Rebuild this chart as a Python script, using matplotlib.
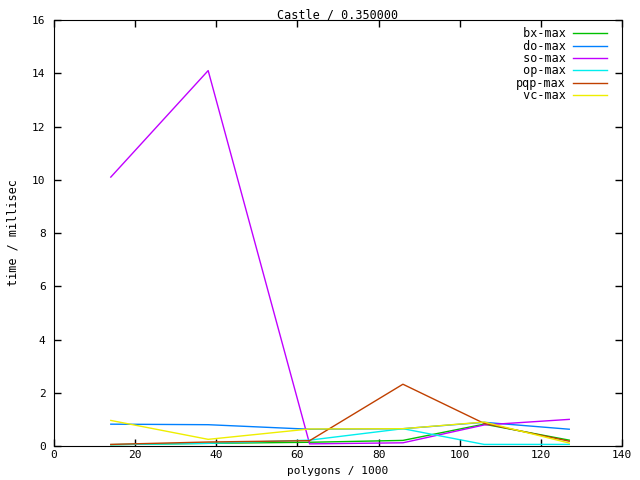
import matplotlib
matplotlib.use("Agg")
import matplotlib.pyplot as plt

polygons = [14, 38, 63, 86, 106, 127]

bx_max = [0.05, 0.10, 0.14, 0.21, 0.82, 0.22]
do_max = [0.82, 0.80, 0.63, 0.65, 0.89, 0.63]
so_max = [10.1, 14.1, 0.08, 0.12, 0.79, 1.00]
op_max = [0.05, 0.10, 0.22, 0.65, 0.06, 0.06]
pqp_max = [0.06, 0.15, 0.20, 2.32, 0.85, 0.18]
vc_max = [0.96, 0.25, 0.64, 0.65, 0.90, 0.11]

series = [
    ("bx-max", bx_max, "#00c000"),
    ("do-max", do_max, "#0080ff"),
    ("so-max", so_max, "#c000ff"),
    ("op-max", op_max, "#00eeee"),
    ("pqp-max", pqp_max, "#c04000"),
    ("vc-max", vc_max, "#eeee00"),
]

plt.rcParams['font.family'] = 'DejaVu Sans Mono'
plt.rcParams['font.size'] = 8.5

fig = plt.figure(figsize=(6.4, 4.8), dpi=100)
ax = fig.add_axes([54/640, 34/480, 568/640, 426/480])

# pad labels so they line up on the right like gnuplot's key
for name, vals, col in series:
    ax.plot(polygons, vals, color=col, lw=1.0, label=name.rjust(7))

ax.set_xlim(0, 140)
ax.set_ylim(0, 16)
ax.set_xticks(range(0, 141, 20))
ax.set_yticks(range(0, 17, 2))
ax.tick_params(direction='in', length=5, width=1, top=True, right=True,
               labelsize=8)
ax.tick_params(axis='x', pad=3)
ax.tick_params(axis='y', pad=6)

ax.set_title("Castle / 0.350000", pad=1, fontsize=8.5)
ax.set_xlabel("polygons / 1000", fontsize=8)
ax.xaxis.set_label_coords(0.5, -0.046)
ax.set_ylabel("time / millisec", labelpad=9, fontsize=8.5)

leg = ax.legend(loc='upper right', bbox_to_anchor=(0.9736, 0.983),
                frameon=False, markerfirst=False, borderpad=0,
                borderaxespad=0, handlelength=2.9, handletextpad=0.6,
                labelspacing=-0.05)

fig.savefig("out.png", dpi=100)
